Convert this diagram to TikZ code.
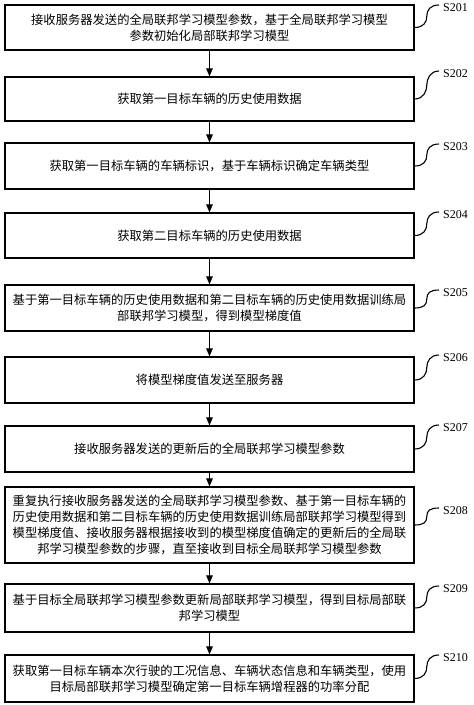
\documentclass[tikz,border=0pt]{standalone}
\usepackage{fontspec}
\setmainfont{Liberation Serif}
\newfontfamily\cjk{Noto Sans CJK SC}
\usetikzlibrary{arrows.meta,calc}
\begin{document}
\begin{tikzpicture}[x=1pt,y=-1pt,
  bx/.style={draw=black,line width=1.2pt,minimum width=409pt,align=center,inner sep=0pt,
    font=\cjk\fontsize{12.3}{16}\selectfont},
  lb/.style={anchor=west,inner sep=0pt,font=\fontsize{12}{14}\selectfont},
  arr/.style={line width=1.1pt,-{Triangle[width=6.5pt,length=8pt]}},
  sq/.style={line width=1.1pt}]
\useasboundingbox (0,0) rectangle (474,705);
\fill[white] (0,0) rectangle (474,705);

\node[bx,minimum height=45pt] (b1) at (209.5,27.5) {接收服务器发送的全局联邦学习模型参数，基于全局联邦学习模型\\参数初始化局部联邦学习模型};
\node[bx,minimum height=44pt] (b2) at (209.5,99) {获取第一目标车辆的历史使用数据};
\node[bx,minimum height=46pt] (b3) at (209.5,166) {获取第一目标车辆的车辆标识，基于车辆标识确定车辆类型};
\node[bx,minimum height=45pt] (b4) at (209.5,235.5) {获取第二目标车辆的历史使用数据};
\node[bx,minimum height=46pt] (b5) at (209.5,308) {基于第一目标车辆的历史使用数据和第二目标车辆的历史使用数据训练局\\部联邦学习模型，得到模型梯度值};
\node[bx,minimum height=46pt] (b6) at (209.5,380) {将模型梯度值发送至服务器};
\node[bx,minimum height=46pt] (b7) at (209.5,449) {接收服务器发送的更新后的全局联邦学习模型参数};
\node[bx,minimum height=76pt] (b8) at (209.5,525) {重复执行接收服务器发送的全局联邦学习模型参数、基于第一目标车辆的\\历史使用数据和第二目标车辆的历史使用数据训练局部联邦学习模型得到\\模型梯度值、接收服务器根据接收到的模型梯度值确定的更新后的全局联\\邦学习模型参数的步骤，直至接收到目标全局联邦学习模型参数};
\node[bx,minimum height=48pt] (b9) at (209.5,608) {基于目标全局联邦学习模型参数更新局部联邦学习模型，得到目标局部联\\邦学习模型};
\node[bx,minimum height=47pt] (b10) at (209.5,678.5) {获取第一目标车辆本次行驶的工况信息、车辆状态信息和车辆类型，使用\\目标局部联邦学习模型确定第一目标车辆增程器的功率分配};

\node[lb] (l1) at (443,8) {S201};
\node[lb] (l2) at (443,74) {S202};
\node[lb] (l3) at (443,147) {S203};
\node[lb] (l4) at (443,215) {S204};
\node[lb] (l5) at (443,293) {S205};
\node[lb] (l6) at (443,358) {S206};
\node[lb] (l7) at (443,428) {S207};
\node[lb] (l8) at (443,511) {S208};
\node[lb] (l9) at (443,589) {S209};
\node[lb] (l10) at (443,658) {S210};

\foreach \i in {1,...,10}{
  \coordinate (e\i) at ($(l\i.west)+(-4,-3)$);
  \coordinate (m\i) at ($(b\i.east)!0.5!(e\i)$);
  \draw[sq] (b\i.east) .. controls +(9,0) and +(0,6) .. (m\i) .. controls +(0,-6) and +(-9,0) .. (e\i);
}

\foreach \i/\j in {1/2,2/3,3/4,4/5,5/6,6/7,7/8,8/9,9/10}{
  \draw[arr] (b\i.south) -- (b\j.north);
}
\end{tikzpicture}
\end{document}
